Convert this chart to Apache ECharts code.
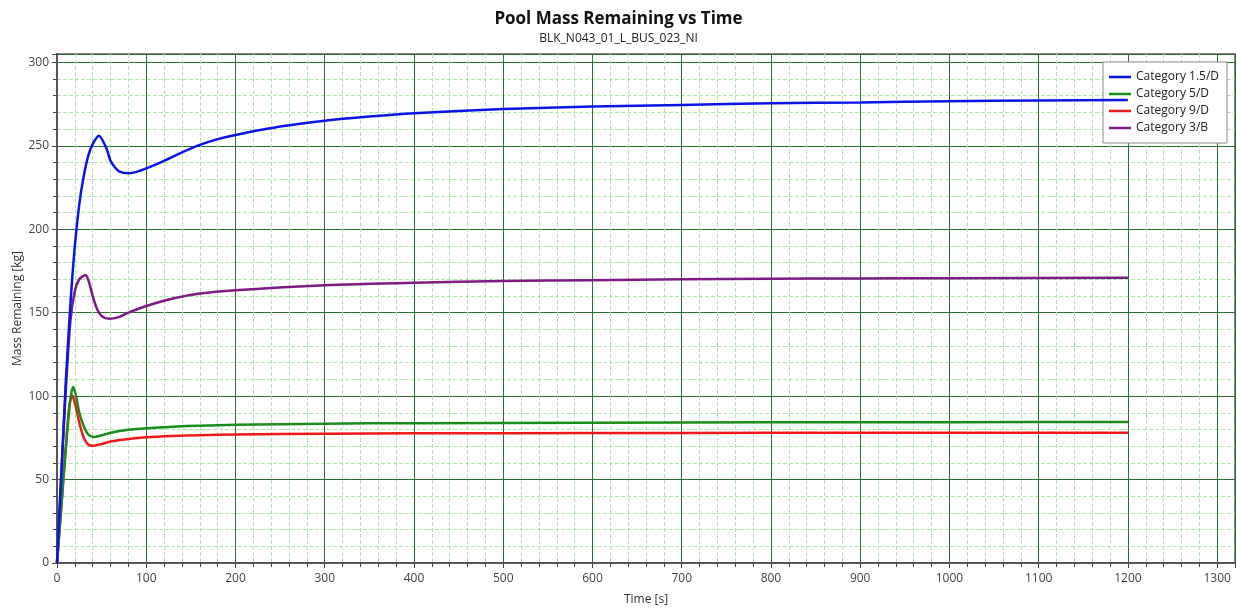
<!DOCTYPE html>
<html>
<head>
<meta charset="utf-8">
<script src="https://cdn.jsdelivr.net/npm/echarts@6/dist/echarts.min.js"></script>
<style>
  html, body { margin: 0; padding: 0; background: #fff; }
  #chart { width: 1237px; height: 609px; }
</style>
</head>
<body>
<div id="chart"></div>
<script>
// series names
var seriesNames = ['Category 1.5/D', 'Category 5/D', 'Category 9/D', 'Category 3/B'];
var seriesColors = ['#0a14e6', '#1a8c1a', '#f01818', '#7d1a86'];

// Category 1.5/D
var tBlue = [0, 5, 10, 15, 20, 25, 30, 35, 40, 47, 55, 60, 65, 70, 80, 90, 100, 120, 140, 160, 180, 200, 250, 300, 350, 400, 500, 600, 700, 800, 900, 1000, 1100, 1200];
var vBlue = [0, 55, 110, 155, 190, 215, 232, 244, 251, 256, 249, 241, 237, 234.5, 233.5, 234.5, 236.5, 241, 246, 250.5, 254, 256.5, 261.5, 265, 267.5, 269.5, 272, 273.5, 274.5, 275.5, 276, 276.7, 277.2, 277.5];

// Category 5/D
var tGreen = [0, 5, 10, 15, 18, 21, 25, 30, 35, 41, 50, 60, 80, 100, 130, 160, 200, 300, 400, 600, 800, 1000, 1200];
var vGreen = [0, 35, 70, 98, 105.5, 101, 90, 82, 77, 75.5, 76.5, 78, 79.8, 80.8, 81.7, 82.3, 82.8, 83.5, 83.8, 84.1, 84.3, 84.4, 84.5];

// Category 9/D
var tRed = [0, 5, 10, 14, 17, 20, 25, 30, 35, 40, 50, 60, 80, 100, 130, 160, 200, 300, 400, 600, 800, 1000, 1200];
var vRed = [0, 35, 70, 95, 100.5, 96, 84, 75, 71, 70.2, 71.3, 72.8, 74.3, 75.3, 76.1, 76.6, 77, 77.5, 77.7, 77.9, 78, 78.1, 78.1];

// Category 3/B
var tPurple = [0, 5, 10, 15, 20, 25, 32, 36, 40, 45, 50, 58, 70, 80, 100, 130, 160, 200, 300, 400, 500, 600, 700, 800, 900, 1000, 1200];
var vPurple = [0, 55, 105, 145, 163, 170, 172.5, 168, 160, 152, 148, 146.3, 147.5, 150, 154, 158.5, 161.5, 163.5, 166.5, 168, 169, 169.5, 170, 170.3, 170.5, 170.7, 171];

var allT = [tBlue, tGreen, tRed, tPurple];
var allV = [vBlue, vGreen, vRed, vPurple];

function pairs(t, v) {
  var out = [];
  for (var i = 0; i < t.length; i++) out.push([t[i], v[i]]);
  return out;
}

var chart = echarts.init(document.getElementById('chart'));
var font = '"Open Sans", "Noto Sans", sans-serif';

var option = {
  backgroundColor: '#fff',
  animation: false,
  textStyle: { fontFamily: font },
  title: {
    text: 'Pool Mass Remaining vs Time',
    subtext: 'BLK_N043_01_L_BUS_023_NI',
    left: 'center',
    top: 6,
    itemGap: 5,
    textStyle: { fontFamily: font, fontSize: 17, fontWeight: 'bold', color: '#111' },
    subtextStyle: { fontFamily: font, fontSize: 12, color: '#222' }
  },
  legend: {
    orient: 'vertical',
    right: 10,
    top: 62,
    itemWidth: 22,
    itemHeight: 12,
    itemGap: 5,
    icon: 'path://M0,5 L22,5 L22,7.5 L0,7.5 Z',
    backgroundColor: '#fff',
    borderColor: '#888',
    borderWidth: 1,
    borderRadius: 0,
    padding: [9, 8, 9, 6],
    textStyle: { fontFamily: font, fontSize: 12, color: '#222' },
    data: seriesNames
  },
  grid: {
    left: 57,
    right: 2,
    top: 54,
    bottom: 46,
    outerBoundsMode: 'none',
    containLabel: false,
    show: true,
    borderColor: '#888',
    borderWidth: 2
  },
  xAxis: {
    type: 'value',
    min: 0,
    max: 1320,
    interval: 100,
    name: 'Time [s]',
    nameLocation: 'middle',
    nameGap: 31,
    nameTextStyle: { fontFamily: font, fontSize: 12, color: '#333' },
    axisLine: { show: true, lineStyle: { color: '#555', width: 2 } },
    axisTick: { show: true, length: 5, lineStyle: { color: '#444' } },
    minorTick: { show: true, splitNumber: 5, length: 4, lineStyle: { color: '#444' } },
    axisLabel: {
      fontFamily: font, fontSize: 12, color: '#444', margin: 10, showMaxLabel: false,
      formatter: function (v) { return String(v); }
    },
    splitLine: { show: true, lineStyle: { color: '#2e6b2e', width: 1 } },
    minorSplitLine: { show: true, lineStyle: { color: '#ade6ad', type: [4, 2], width: 1 } }
  },
  yAxis: {
    type: 'value',
    min: 0,
    max: 305,
    interval: 50,
    name: 'Mass Remaining [kg]',
    nameLocation: 'middle',
    nameGap: 33,
    nameMoveOverlap: false,
    nameTextStyle: { fontFamily: font, fontSize: 12, color: '#333' },
    axisLine: { show: true, lineStyle: { color: '#555', width: 2 } },
    axisTick: { show: true, length: 5, lineStyle: { color: '#444' } },
    minorTick: { show: true, splitNumber: 5, length: 4, lineStyle: { color: '#444' } },
    axisLabel: {
      fontFamily: font, fontSize: 12, color: '#444', margin: 8, showMaxLabel: false,
      formatter: function (v) { return String(v); }
    },
    splitLine: { show: true, lineStyle: { color: '#2e6b2e', width: 1 } },
    minorSplitLine: { show: true, lineStyle: { color: '#ade6ad', type: [4, 2], width: 1 } }
  },
  series: seriesNames.map(function (name, i) {
    return {
      name: name,
      type: 'line',
      data: pairs(allT[i], allV[i]),
      smooth: 0.25,
      showSymbol: false,
      symbol: 'none',
      color: seriesColors[i],
      lineStyle: { width: 2.5, color: seriesColors[i] },
      z: 10 - i
    };
  })
};

chart.setOption(option);
</script>
</body>
</html>
